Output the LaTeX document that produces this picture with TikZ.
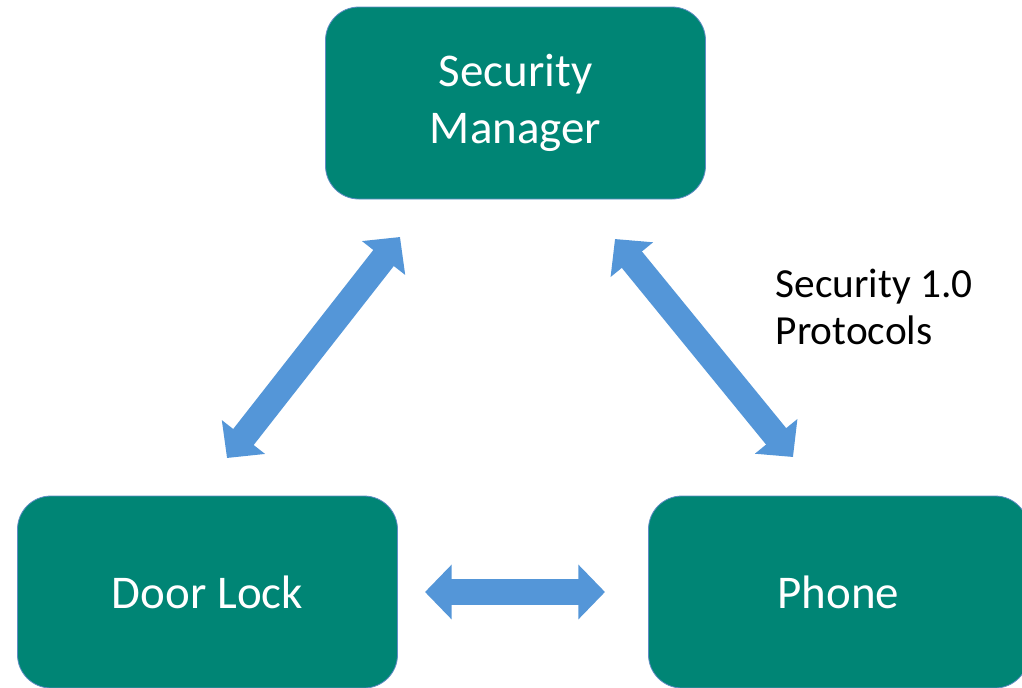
\documentclass[tikz,border=0pt]{standalone}
\usepackage{fontspec}
\setmainfont{Carlito}
\usetikzlibrary{arrows.meta}
\definecolor{smTeal}{RGB}{0,133,117}
\definecolor{smEdge}{RGB}{96,140,196}
\definecolor{smArrow}{RGB}{84,150,216}

\tikzset{
  unitbox/.style={rectangle, rounded corners=25pt, fill=smTeal, draw=smEdge,
    line width=0.6pt, minimum width=285pt, minimum height=144pt,
    text=white, align=center, font=\fontsize{35.2}{42.75}\selectfont},
  linkarrow/.style={draw=smArrow, line width=19.5pt,
    {Triangle[width=40pt,length=20pt]}-{Triangle[width=40pt,length=20pt]}}
}

\begin{document}
\begin{tikzpicture}[x=0.75pt,y=-0.75pt]
  \useasboundingbox (0,0) rectangle (1022,687);
  \clip (0,0) rectangle (1022,687);

  % the three parties
  \node[unitbox] (sm) at (515.5,103) {Security\\Manager};
  \node[unitbox] (dl) at (207.5,592) {Door Lock};
  \node[unitbox] (ph) at (838.5,592) {Phone};

  % arrow end points
  \coordinate (smL) at (400,237);
  \coordinate (dlT) at (227,458);
  \coordinate (smR) at (615,239);
  \coordinate (phT) at (793,457);
  \coordinate (dlR) at (425,592);
  \coordinate (phL) at (605,592);

  % links
  \draw[linkarrow] (dlT) -- (smL);
  \draw[linkarrow] (smR) -- (phT);
  \draw[linkarrow] (dlR) -- (phL);

  \node[anchor=west, align=left, font=\fontsize{31}{35.25}\selectfont]
    (proto) at (771,307) {Security 1.0\\Protocols};
\end{tikzpicture}
\end{document}
